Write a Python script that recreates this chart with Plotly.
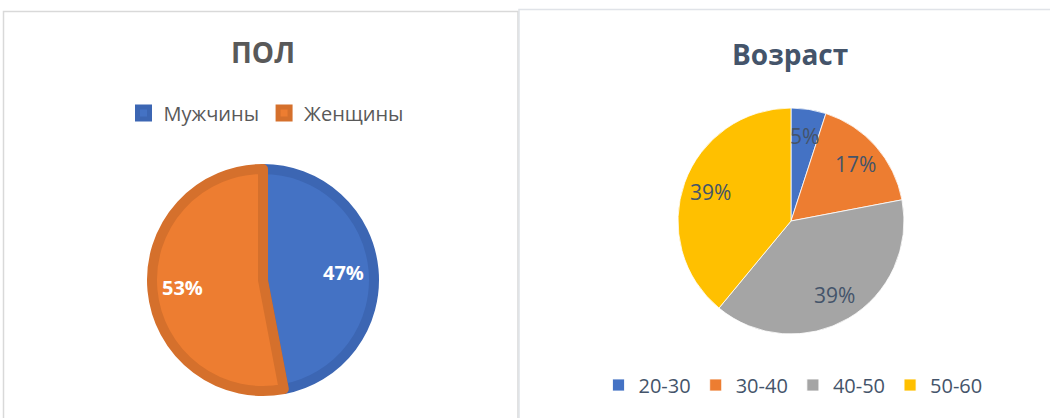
import math
import plotly.graph_objects as go

W, H = 1050, 418

# Data
sex_labels = ["Мужчины", "Женщины"]
sex_values = [47, 53]
age_labels = ["20-30", "30-40", "40-50", "50-60"]
age_values = [5, 17, 39, 39]

sex_colors = ["#4472C4", "#ED7D31"]
sex_line = ["#3C66B3", "#D5702C"]
age_colors = ["#4472C4", "#ED7D31", "#A5A5A5", "#FFC000"]

FONT = "Open Sans"


def px(x):
    return x / W


def py(y):
    return 1 - y / H


# pie geometry (pixels)
L_CX, L_CY, L_R = 263, 280, 111   # left pie (line adds ~5px outside)
R_CX, R_CY, R_R = 791, 221, 113   # right pie

fig = go.Figure()

fig.add_trace(go.Pie(
    labels=sex_labels, values=sex_values, sort=False, direction="clockwise", rotation=0,
    marker=dict(colors=sex_colors, line=dict(color=sex_line, width=10)),
    textinfo="none",
    domain=dict(x=[px(L_CX - L_R), px(L_CX + L_R)], y=[py(L_CY + L_R), py(L_CY - L_R)]),
    legend="legend", hoverinfo="label+percent",
))

fig.add_trace(go.Pie(
    labels=age_labels, values=age_values, sort=False, direction="clockwise", rotation=0,
    marker=dict(colors=age_colors, line=dict(color="white", width=0.8)),
    textinfo="none",
    domain=dict(x=[px(R_CX - R_R), px(R_CX + R_R)], y=[py(R_CY + R_R), py(R_CY - R_R)]),
    legend="legend2", hoverinfo="label+percent",
))


def slice_labels(values, cx, cy, r, frac, font):
    total = sum(values)
    out = []
    cum = 0
    for v in values:
        a = 2 * math.pi * (cum + v / 2) / total
        cum += v
        x = cx + frac * r * math.sin(a)
        y = cy - frac * r * math.cos(a)
        out.append(dict(text=f"{round(100 * v / total)}%", x=px(x), y=py(y),
                        xref="paper", yref="paper", showarrow=False,
                        xanchor="center", yanchor="middle", font=font))
    return out


annotations = [
    dict(text="<b>ПОЛ</b>", x=px(263), y=py(52), xref="paper", yref="paper", showarrow=False,
         xanchor="center", yanchor="middle", font=dict(family=FONT, size=28, color="#595959")),
    dict(text="<b>Возраст</b>", x=px(790), y=py(54), xref="paper", yref="paper", showarrow=False,
         xanchor="center", yanchor="middle", font=dict(family=FONT, size=28, color="#44546A")),
]
annotations += slice_labels(sex_values, L_CX, L_CY, 116, 0.70,
                            dict(family=FONT, size=20, color="white", weight="bold"))
annotations += slice_labels(age_values, R_CX, R_CY, R_R, 0.76,
                            dict(family=FONT, size=21, color="#44546A"))

shapes = [
    dict(type="rect", xref="paper", yref="paper", x0=px(3.5), x1=px(518), y0=-0.05, y1=py(11.5),
         line=dict(color="#D9D9D9", width=1.5), fillcolor="rgba(0,0,0,0)", layer="below"),
    dict(type="rect", xref="paper", yref="paper", x0=px(519), x1=1.05, y0=-0.05, y1=py(9.5),
         line=dict(color="#E0E3E8", width=1.5), fillcolor="rgba(0,0,0,0)", layer="below"),
]

fig.update_layout(
    width=W, height=H, margin=dict(l=0, r=0, t=0, b=0),
    paper_bgcolor="white", plot_bgcolor="white",
    shapes=shapes, annotations=annotations,
    legend=dict(orientation="h", x=px(266), y=py(113), xanchor="center", yanchor="middle",
                font=dict(family=FONT, size=20, color="#595959"), itemclick=False,
                bgcolor="rgba(0,0,0,0)"),
    legend2=dict(orientation="h", x=px(793), y=py(385), xanchor="center", yanchor="middle",
                 font=dict(family=FONT, size=20, color="#44546A"), itemclick=False,
                 bgcolor="rgba(0,0,0,0)"),
)

fig.write_html("out.html", config={"displayModeBar": False},
               post_script="document.body.style.margin='0px';")
